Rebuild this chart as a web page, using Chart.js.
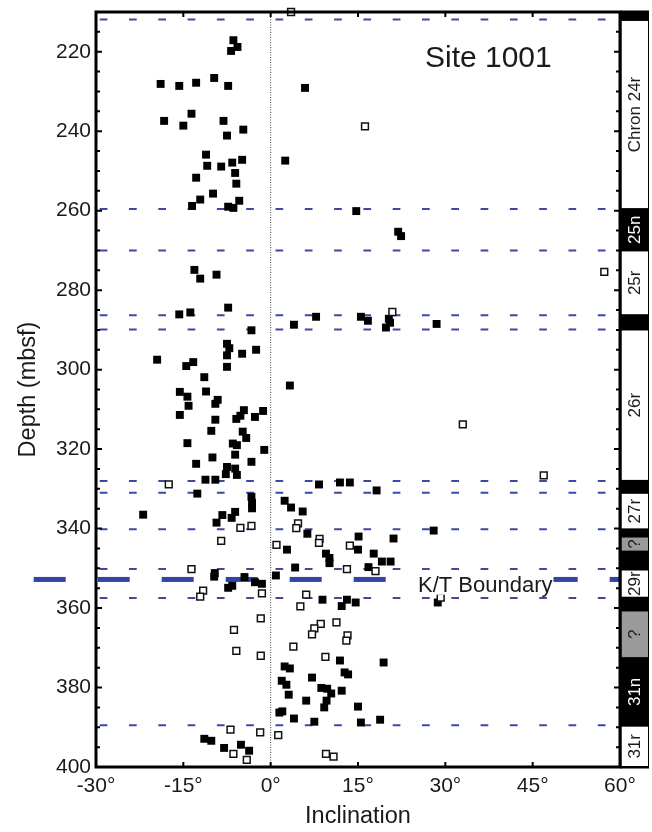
<!DOCTYPE html>
<html>
<head>
<meta charset="utf-8">
<script src="https://cdn.jsdelivr.net/npm/chart.js@4.4.1/dist/chart.umd.min.js"></script>
<style>
  html, body { margin: 0; padding: 0; background: #fff; }
  #wrap { width: 652px; height: 832px; }
</style>
</head>
<body>
<div id="wrap"><canvas id="c" width="652" height="832"></canvas></div>
<script>
// ------------------------------------------------------------------
// data (inclination in degrees, depth in mbsf)
// ------------------------------------------------------------------

const X_TICKS = [-30, -15, 0, 15, 30, 45, 60];
const Y_TICKS = [220, 240, 260, 280, 300, 320, 340, 360, 380, 400];

// filled squares
const filledPts = [
  [-6.4,217.1],[-5.7,218.8],[-6.8,219.8],[-9.7,226.6],[-18.9,228.1],[-15.7,228.6],[-12.8,227.8],[-7.3,228.6],[5.9,229.1],
  [-13.6,235.6],[-18.3,237.4],[-15.0,238.6],[-8.1,237.4],[-4.7,239.6],[-7.5,241.1],
  [-11.1,245.9],[-4.9,247.2],[-6.6,247.9],[-10.9,248.7],[-8.5,248.9],[2.5,247.4],[-6.1,250.5],[-12.8,251.7],
  [-5.9,253.2],[-9.9,255.7],[-12.1,257.2],[-13.5,258.8],[-5.4,257.5],[-7.3,259.0],[-6.4,259.3],
  [14.7,260.1],[21.9,265.3],[22.4,266.4],
  [-13.1,274.9],[-12.1,277.1],[-9.3,276.1],[-7.3,284.4],[-15.7,286.1],[-13.8,285.6],
  [7.8,286.7],[15.5,286.7],[16.7,287.7],[20.3,287.2],[20.5,288.2],[19.8,289.4],[28.5,288.5],[4.0,288.7],[-3.3,290.1],
  [-7.5,293.5],[-7.1,294.6],[-7.5,296.4],[-4.9,296.0],[-2.5,295.0],[-19.5,297.5],[-14.5,299.1],[-13.3,298.1],
  [-7.5,299.3],[-11.4,301.9],[3.3,304.0],[-15.6,305.6],[-14.3,306.8],[-11.1,305.5],[-9.1,307.6],[-9.5,308.6],
  [-14.1,309.1],[-15.6,311.4],[-9.5,312.6],[-4.6,310.2],[-5.2,311.6],[-5.9,312.4],[-2.7,311.9],[-1.3,310.4],
  [-10.2,315.4],[-4.8,315.6],[-4.2,317.2],[-14.3,318.5],[-6.5,318.6],[-5.8,319.0],[-1.1,320.2],[-10.0,322.1],
  [-6.1,321.4],[-3.3,323.2],[-12.8,323.7],[-7.5,324.5],[-6.1,324.9],[-7.7,326.3],[-5.8,326.5],[-11.2,327.7],
  [-9.5,327.7],[-12.6,331.2],[-3.3,332.0],[-3.2,333.5],[-3.2,334.9],[-21.9,336.5],[-6.1,335.8],[-8.3,336.6],
  [-6.7,337.3],[-9.3,338.5],
  [8.3,328.9],[11.9,328.4],[13.6,328.4],[18.2,330.4],[2.4,333.0],[3.5,334.7],[5.5,335.7],[6.3,341.3],[28.0,340.5],
  [2.8,345.3],[15.1,342.0],[21.1,342.5],[15.0,345.3],[9.5,346.3],[10.1,347.4],[10.1,348.7],[17.7,346.3],
  [19.1,348.3],[20.6,348.3],[4.2,349.8],[16.8,349.7],[0.9,351.8],
  [-9.6,351.2],[-9.7,352.1],[-4.5,352.2],[-7.3,354.9],[-6.6,354.4],[-2.7,353.5],[-1.5,353.9],
  [8.9,357.9],[13.1,357.9],[12.2,359.5],[14.6,358.6],[28.7,358.6],
  [11.9,373.2],[19.4,373.7],[2.4,374.7],[3.3,375.2],[12.7,376.2],[13.3,376.7],[7.1,377.5],[1.9,378.3],[2.7,379.3],
  [8.7,380.1],[9.7,380.3],[10.4,381.5],[12.2,380.8],[3.1,381.8],[9.6,383.3],[6.1,383.3],[9.2,385.0],[15.0,384.8],
  [1.5,386.3],[2.0,386.0],[4.0,387.8],[7.5,388.6],[15.5,388.8],[18.8,388.1],
  [-11.4,392.9],[-10.2,393.4],[-8.0,395.2],[-5.1,394.4],[-3.7,395.9]
];

// open squares
const openPts = [
  [3.5,210.0],[16.2,238.8],[57.3,275.4],[20.9,285.5],[33.0,313.8],[46.9,326.6],[-17.5,328.9],
  [-5.2,339.8],[-3.3,339.3],[-8.5,343.1],[4.7,338.7],[4.4,339.9],[1.0,344.1],[8.4,342.6],[8.3,343.6],
  [13.6,344.3],[-13.6,350.2],[13.1,350.2],[18.0,350.7],[-11.6,355.6],[-12.1,357.1],[-1.5,356.3],
  [6.1,356.6],[5.1,359.6],[29.2,357.4],[-1.7,362.6],[11.3,363.6],[8.6,364.0],[7.5,365.1],[7.1,366.6],
  [-6.3,365.5],[13.2,366.9],[13.0,368.2],[3.9,369.7],[-5.9,370.8],[-1.7,372.0],[9.4,372.3],
  [-6.9,390.6],[-1.8,391.3],[1.3,392.0],[-6.4,396.7],[-4.1,398.2],[9.5,396.7],[10.8,397.4]
];

// chron boundaries (dashed lines) and K/T boundary
const boundaryDepths = [211.9, 259.6, 270.0, 286.3, 289.9, 328.0, 331.0, 340.2, 350.2, 357.5, 389.5];
const ktDepth = 352.8;

// chron column: top, bottom, polarity (N normal, R reversed, U uncertain), label
const chronTop      = [210,   212,         259.6, 270,   286.3, 289.9, 328,  331,   340.2, 342,   345.8, 350.3, 357.4, 360.6, 372.6, 389.6];
const chronBottom   = [212,   259.6,       270,   286.3, 289.9, 328,   331,  340.2, 342,   345.8, 350.3, 357.4, 360.6, 372.6, 389.6, 400];
const chronPolarity = ['N',   'R',         'N',   'R',   'N',   'R',   'N',  'R',   'N',   'U',   'N',   'R',   'N',   'U',   'N',   'R'];
const chronLabel    = ['',    'Chron 24r', '25n', '25r', '',    '26r', '',   '27r', '',    '?',   '',    '29r', '',    '?',   '31n', '31r'];

// ------------------------------------------------------------------
// chart
// ------------------------------------------------------------------

const FONT = '"Liberation Sans", Arial, Helvetica, sans-serif';
const INK = '#1a1a1a';
const DASH_BLUE = '#3b49a2';

const toXY = arr => arr.map(p => ({ x: p[0], y: p[1] }));

const boundarySets = boundaryDepths.map(d => ({
  type: 'line',
  data: [{ x: -30, y: d }, { x: 60, y: d }],
  borderColor: DASH_BLUE,
  borderWidth: 2,
  borderDash: [7.7, 21.6],
  borderDashOffset: -3.7,
  pointRadius: 0,
  showLine: true,
  fill: false,
  order: 10
}));

const decor = {
  id: 'decor',
  afterDatasetsDraw(chart) {
    const { ctx, scales: { x, y } } = chart;
    ctx.save();

    // K/T label on a white box
    ctx.font = '22px ' + FONT;
    const kt = 'K/T Boundary';
    const tx = x.getPixelForValue(25.3);
    const ty = y.getPixelForValue(355.9);
    const w = ctx.measureText(kt).width;
    ctx.fillStyle = '#fff';
    ctx.fillRect(tx - 4, ty - 20, w + 5, 23);
    ctx.fillStyle = INK;
    ctx.textBaseline = 'alphabetic';
    ctx.textAlign = 'left';
    ctx.fillText(kt, tx, ty);

    // site name
    ctx.font = '30px ' + FONT;
    ctx.fillText('Site 1001', x.getPixelForValue(26.5), y.getPixelForValue(223.8));
    ctx.restore();
  },
  afterDraw(chart) {
    const { ctx, chartArea: a, scales: { x, y } } = chart;
    ctx.save();

    // chron column
    const c0 = a.right, c1 = a.right + 29;
    ctx.fillStyle = '#000';
    ctx.fillRect(c0, a.top - 1.5, c1 - c0, a.height + 3);
    chronTop.forEach((t, i) => {
      const p0 = y.getPixelForValue(t);
      const p1 = y.getPixelForValue(chronBottom[i]);
      const pol = chronPolarity[i];
      if (pol !== 'N') {
        ctx.fillStyle = pol === 'R' ? '#fff' : '#9a9a9a';
        ctx.fillRect(c0 + 1.5, p0 + 1, c1 - c0 - 2.5, p1 - p0 - 2);
      }
      if (chronLabel[i]) {
        ctx.save();
        ctx.translate((c0 + c1) / 2 + 1, (p0 + p1) / 2);
        ctx.rotate(-Math.PI / 2);
        ctx.font = '17px ' + FONT;
        ctx.fillStyle = pol === 'N' ? '#fff' : INK;
        ctx.textAlign = 'center';
        ctx.textBaseline = 'middle';
        ctx.fillText(chronLabel[i], 0, 0);
        ctx.restore();
      }
    });

    // frame
    ctx.strokeStyle = '#000';
    ctx.lineWidth = 3;
    ctx.strokeRect(a.left, a.top, a.width, a.height);

    // inner ticks
    ctx.lineWidth = 2;
    ctx.beginPath();
    for (let d = Math.ceil(y.min / 5) * 5; d <= y.max; d += 5) {
      const py = y.getPixelForValue(d);
      const len = d % 20 === 0 ? 6 : 4;
      ctx.moveTo(a.left, py); ctx.lineTo(a.left + len, py);
      ctx.moveTo(a.right, py); ctx.lineTo(a.right - len, py);
    }
    X_TICKS.forEach(v => {
      const px = x.getPixelForValue(v);
      ctx.moveTo(px, a.bottom); ctx.lineTo(px, a.bottom - 5);
      ctx.moveTo(px, a.top); ctx.lineTo(px, a.top + 5);
    });
    ctx.stroke();
    ctx.restore();
  }
};

new Chart(document.getElementById('c'), {
  type: 'scatter',
  data: {
    datasets: [
      {
        data: toXY(openPts),
        pointStyle: 'rect',
        pointRadius: 4.8,
        backgroundColor: '#fff',
        borderColor: '#111',
        borderWidth: 1.5,
        clip: false,
        order: 0
      },
      {
        data: toXY(filledPts),
        pointStyle: 'rect',
        pointRadius: 5.6,
        backgroundColor: '#000',
        borderWidth: 0,
        order: 1
      },
      {
        type: 'line',
        data: [{ x: -40.7, y: ktDepth }, { x: 60, y: ktDepth }],
        borderColor: '#3343a3',
        borderWidth: 5,
        borderDash: [32, 32],
        pointRadius: 0,
        showLine: true,
        clip: false,
        order: 5
      },
      {
        type: 'line',
        data: [{ x: 0, y: 210 }, { x: 0, y: 400 }],
        borderColor: '#444',
        borderWidth: 1,
        borderDash: [1, 1.5],
        pointRadius: 0,
        showLine: true,
        order: 11
      },
      ...boundarySets
    ]
  },
  options: {
    responsive: false,
    animation: false,
    devicePixelRatio: 1,
    layout: { padding: { top: 12, right: 32, left: 0, bottom: 0 } },
    plugins: { legend: { display: false }, tooltip: { enabled: false } },
    scales: {
      x: {
        type: 'linear',
        min: -30,
        max: 60,
        afterBuildTicks: s => { s.ticks = X_TICKS.map(v => ({ value: v })); },
        afterFit: s => { s.height = 65; s.paddingLeft = 0; s.paddingRight = 0; },
        grid: { display: false, drawTicks: false },
        border: { display: false },
        ticks: {
          color: INK,
          font: { family: FONT, size: 21 },
          padding: 7,
          maxRotation: 0,
          autoSkip: false,
          callback: v => v + '°'
        },
        title: {
          display: true,
          text: 'Inclination',
          color: INK,
          font: { family: FONT, size: 23.5 },
          padding: { top: 0, bottom: 1 }
        }
      },
      y: {
        type: 'linear',
        min: 210,
        max: 400,
        reverse: true,
        afterBuildTicks: s => { s.ticks = Y_TICKS.map(v => ({ value: v })); },
        afterFit: s => { s.width = 96; s.paddingTop = 0; s.paddingBottom = 0; },
        grid: { display: false, drawTicks: false },
        border: { display: false },
        ticks: {
          color: INK,
          font: { family: FONT, size: 21 },
          padding: 5,
          autoSkip: false
        },
        title: {
          display: true,
          text: 'Depth (mbsf)',
          color: INK,
          font: { family: FONT, size: 23.5 },
          padding: { top: 14, bottom: 0 }
        }
      }
    }
  },
  plugins: [decor]
});
</script>
</body>
</html>
